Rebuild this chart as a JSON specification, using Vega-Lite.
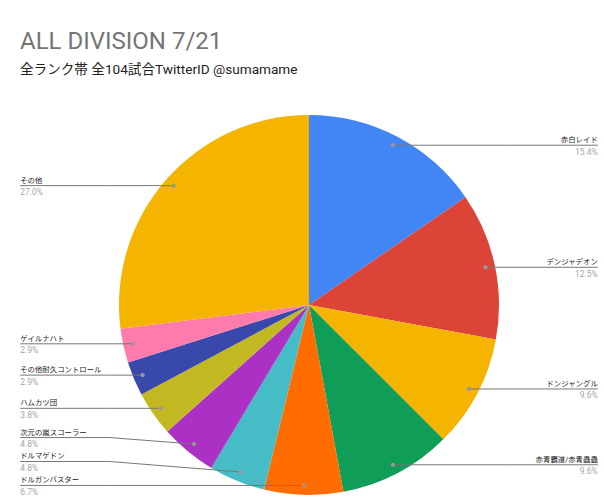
{
  "$schema": "https://vega.github.io/schema/vega-lite/v6.json",
  "width": 590,
  "height": 392,
  "autosize": {"type": "none"},
  "padding": {"left": 14, "top": 109, "right": 0, "bottom": 0},
  "background": "white",
  "config": {"view": {"stroke": null}},
  "title": {
    "text": "ALL DIVISION 7/21",
    "subtitle": "全ランク帯 全104試合TwitterID @sumamame",
    "anchor": "start",
    "frame": "group",
    "font": "Roboto, 'Noto Sans CJK JP', sans-serif",
    "fontSize": 24,
    "fontWeight": "normal",
    "color": "#757575",
    "subtitleFont": "Roboto, 'Noto Sans CJK JP', sans-serif",
    "subtitleFontSize": 13.6,
    "subtitleColor": "#222222",
    "subtitlePadding": 9,
    "offset": 32,
    "dx": 6
  },
  "data": {
    "values": [
      {"deck": "赤白レイド", "pct": 15.4},
      {"deck": "デンジャデオン", "pct": 12.5},
      {"deck": "ドンジャングル", "pct": 9.6},
      {"deck": "赤青覇道/赤青蟲蟲", "pct": 9.6},
      {"deck": "ドルガンバスター", "pct": 6.7},
      {"deck": "ドルマゲドン", "pct": 4.8},
      {"deck": "次元の嵐スコーラー", "pct": 4.8},
      {"deck": "ハムカツ団", "pct": 3.8},
      {"deck": "その他耐久コントロール", "pct": 2.9},
      {"deck": "ゲイルナハト", "pct": 2.9},
      {"deck": "その他", "pct": 27.0}
    ]
  },
  "transform": [
    {"window": [{"op": "row_number", "as": "idx"}]},
    {"joinaggregate": [{"op": "sum", "field": "pct", "as": "total"}]},
    {"window": [{"op": "sum", "field": "pct", "as": "cum"}], "sort": [{"field": "idx"}], "frame": [null, 0]},
    {"calculate": "datum.pct / 100", "as": "share"},
    {"calculate": "(datum.cum - datum.pct / 2) / datum.total * 2 * PI", "as": "mid"},
    {"calculate": "0.95 * sin(datum.mid)", "as": "dotx"},
    {"calculate": "0.95 * cos(datum.mid)", "as": "doty"},
    {"calculate": "datum.dotx >= 0 ? 'R' : 'L'", "as": "side"},
    {"calculate": "datum.side == 'R' ? 1.52 : -1.52", "as": "lx"},
    {"calculate": "datum.side == 'R' ? 1.05 : -1.05", "as": "kx"},
    {"window": [{"op": "row_number", "as": "k1"}], "groupby": ["side"], "sort": [{"field": "doty"}]},
    {"calculate": "datum.doty - 0.126 * (datum.k1 - 1)", "as": "adj"},
    {"window": [{"op": "max", "field": "adj", "as": "cm"}], "groupby": ["side"], "sort": [{"field": "doty"}], "frame": [null, 0]},
    {"calculate": "datum.cm + 0.126 * (datum.k1 - 1)", "as": "ly"}
  ],
  "layer": [
    {
      "mark": {"type": "arc", "outerRadius": 190},
      "encoding": {
        "theta": {"field": "pct", "type": "quantitative", "stack": true},
        "order": {"field": "idx", "type": "quantitative"},
        "color": {
          "field": "deck",
          "type": "nominal",
          "legend": null,
          "scale": {
            "domain": ["赤白レイド", "デンジャデオン", "ドンジャングル", "赤青覇道/赤青蟲蟲", "ドルガンバスター", "ドルマゲドン", "次元の嵐スコーラー", "ハムカツ団", "その他耐久コントロール", "ゲイルナハト", "その他"],
            "range": ["#4285F4", "#DB4437", "#F4B400", "#0F9D58", "#FF6D00", "#46BDC6", "#AB30C4", "#C2B922", "#3949AB", "#FF7BAC", "#F4B400"]
          }
        }
      }
    },
    {
      "mark": {"type": "rule", "color": "#777777", "strokeWidth": 1},
      "encoding": {
        "x": {"field": "lx", "type": "quantitative", "axis": null, "scale": {"domain": [-1.55263, 1.55263], "nice": false, "zero": false}},
        "y": {"field": "ly", "type": "quantitative", "axis": null, "scale": {"domain": [-1.03158, 1.03158], "nice": false, "zero": false}},
        "x2": {"field": "kx"},
        "y2": {"field": "ly"}
      }
    },
    {
      "mark": {"type": "rule", "color": "#777777", "strokeWidth": 1},
      "encoding": {
        "x": {"field": "kx", "type": "quantitative", "axis": null, "scale": {"domain": [-1.55263, 1.55263], "nice": false, "zero": false}},
        "y": {"field": "ly", "type": "quantitative", "axis": null, "scale": {"domain": [-1.03158, 1.03158], "nice": false, "zero": false}},
        "x2": {"field": "dotx"},
        "y2": {"field": "doty"}
      }
    },
    {
      "mark": {"type": "point", "filled": true, "color": "#999999", "size": 18, "opacity": 1},
      "encoding": {
        "x": {"field": "dotx", "type": "quantitative", "axis": null, "scale": {"domain": [-1.55263, 1.55263], "nice": false, "zero": false}},
        "y": {"field": "doty", "type": "quantitative", "axis": null, "scale": {"domain": [-1.03158, 1.03158], "nice": false, "zero": false}}
      }
    },
    {
      "transform": [{"filter": "datum.side == 'R'"}],
      "mark": {"type": "text", "align": "right", "baseline": "alphabetic", "dy": -3, "fontSize": 7.4, "font": "Roboto, 'Noto Sans CJK JP', sans-serif", "color": "#222222"},
      "encoding": {
        "x": {"field": "lx", "type": "quantitative", "axis": null, "scale": {"domain": [-1.55263, 1.55263], "nice": false, "zero": false}},
        "y": {"field": "ly", "type": "quantitative", "axis": null, "scale": {"domain": [-1.03158, 1.03158], "nice": false, "zero": false}},
        "text": {"field": "deck"}
      }
    },
    {
      "transform": [{"filter": "datum.side == 'R'"}],
      "mark": {"type": "text", "align": "right", "baseline": "alphabetic", "dy": 9.5, "fontSize": 8.5, "font": "Roboto, sans-serif", "color": "#a6a6a6"},
      "encoding": {
        "x": {"field": "lx", "type": "quantitative", "axis": null, "scale": {"domain": [-1.55263, 1.55263], "nice": false, "zero": false}},
        "y": {"field": "ly", "type": "quantitative", "axis": null, "scale": {"domain": [-1.03158, 1.03158], "nice": false, "zero": false}},
        "text": {"field": "share", "type": "quantitative", "format": ".1%"}
      }
    },
    {
      "transform": [{"filter": "datum.side == 'L'"}],
      "mark": {"type": "text", "align": "left", "baseline": "alphabetic", "dy": -3, "fontSize": 7.4, "font": "Roboto, 'Noto Sans CJK JP', sans-serif", "color": "#222222"},
      "encoding": {
        "x": {"field": "lx", "type": "quantitative", "axis": null, "scale": {"domain": [-1.55263, 1.55263], "nice": false, "zero": false}},
        "y": {"field": "ly", "type": "quantitative", "axis": null, "scale": {"domain": [-1.03158, 1.03158], "nice": false, "zero": false}},
        "text": {"field": "deck"}
      }
    },
    {
      "transform": [{"filter": "datum.side == 'L'"}],
      "mark": {"type": "text", "align": "left", "baseline": "alphabetic", "dy": 9.5, "fontSize": 8.5, "font": "Roboto, sans-serif", "color": "#a6a6a6"},
      "encoding": {
        "x": {"field": "lx", "type": "quantitative", "axis": null, "scale": {"domain": [-1.55263, 1.55263], "nice": false, "zero": false}},
        "y": {"field": "ly", "type": "quantitative", "axis": null, "scale": {"domain": [-1.03158, 1.03158], "nice": false, "zero": false}},
        "text": {"field": "share", "type": "quantitative", "format": ".1%"}
      }
    }
  ]
}
